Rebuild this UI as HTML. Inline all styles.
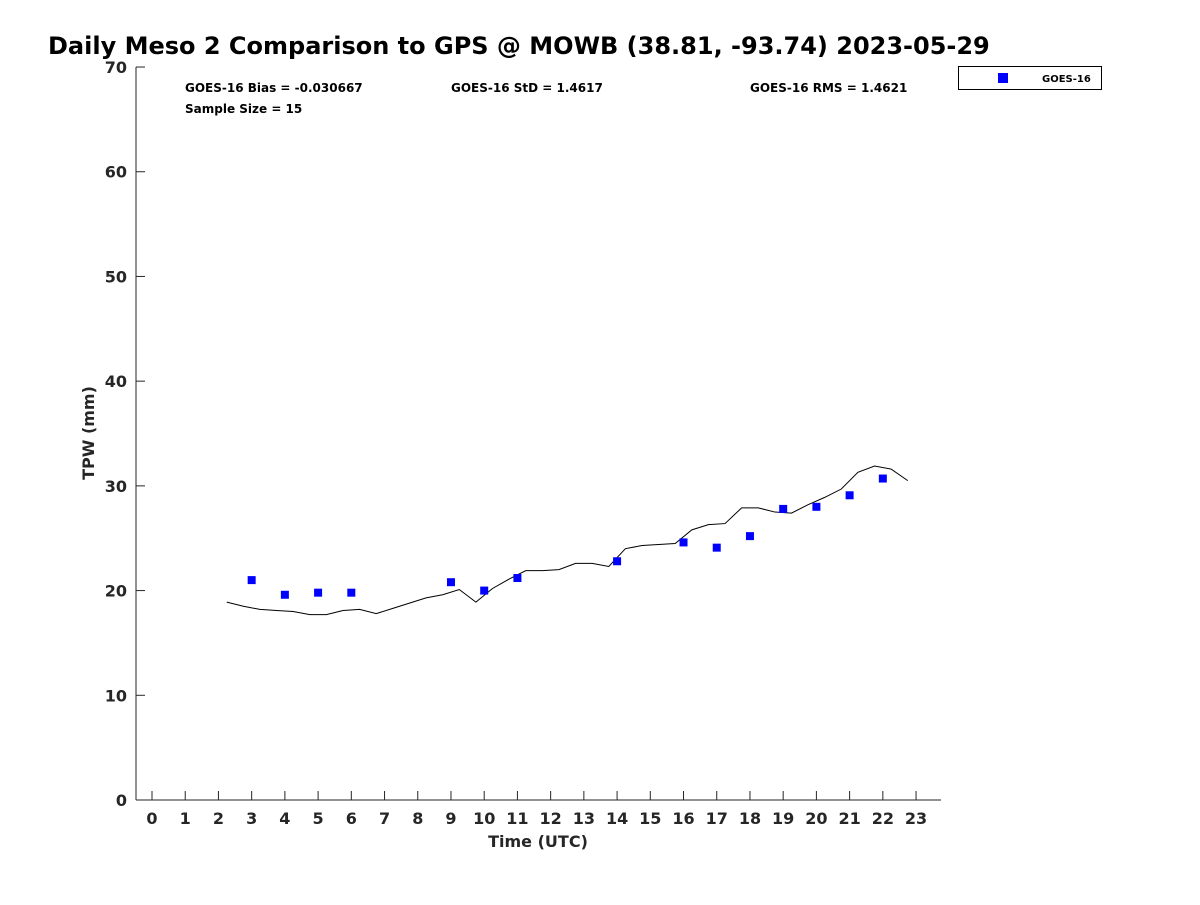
<!DOCTYPE html>
<html><head><meta charset="utf-8"><style>
body{margin:0;background:#fff;}
svg text{font-family:"DejaVu Sans","Liberation Sans",sans-serif;font-weight:bold;fill:#262626;}
</style></head><body>
<svg id="chart" width="1200" height="900" xmlns="http://www.w3.org/2000/svg">
<rect width="1200" height="900" fill="#fff"/>
<text x="48" y="54" font-size="24" style="fill:#000">Daily Meso 2 Comparison to GPS @ MOWB (38.81, -93.74) 2023-05-29</text>
<text x="185" y="92" font-size="12" style="fill:#000">GOES-16 Bias = -0.030667</text>
<text x="451" y="92" font-size="12" style="fill:#000">GOES-16 StD = 1.4617</text>
<text x="750" y="92" font-size="12" style="fill:#000">GOES-16 RMS = 1.4621</text>
<text x="185" y="113" font-size="12" style="fill:#000">Sample Size = 15</text>
<g>
<rect x="958.5" y="66.5" width="143" height="23" fill="#fff" stroke="#000"/>
<rect x="998" y="73" width="10" height="10" fill="#0000ff"/>
<text x="1042" y="82" font-size="10" style="fill:#000">GOES-16</text>
</g>
<g id="axes"></g>
<g id="marks"></g>
<text x="538" y="847" font-size="16" text-anchor="middle">Time (UTC)</text>
<text transform="translate(94,433) rotate(-90)" font-size="16" text-anchor="middle">TPW (mm)</text>
</svg>
<script>
const xTicks=[0,1,2,3,4,5,6,7,8,9,10,11,12,13,14,15,16,17,18,19,20,21,22,23];
const yTicks=[0,10,20,30,40,50,60,70];
const gpsHours=[2.25,2.75,3.25,3.75,4.25,4.75,5.25,5.75,6.25,6.75,7.25,7.75,8.25,8.75,9.25,9.75,10.25,10.75,11.25,11.75,12.25,12.75,13.25,13.75,14.25,14.75,15.25,15.75,16.25,16.75,17.25,17.75,18.25,18.75,19.25,19.75,20.25,20.75,21.25,21.75,22.25,22.75];
const gpsValues=[18.9,18.5,18.2,18.1,18.0,17.7,17.7,18.1,18.2,17.8,18.3,18.8,19.3,19.6,20.1,18.9,20.2,21.1,21.9,21.9,22.0,22.6,22.6,22.3,24.0,24.3,24.4,24.5,25.8,26.3,26.4,27.9,27.9,27.5,27.4,28.2,28.9,29.7,31.3,31.9,31.6,30.5];
const goesHours=[3,4,5,6,9,10,11,14,16,17,18,19,20,21,22];
const goesValues=[21.0,19.6,19.8,19.8,20.8,20.0,21.2,22.8,24.6,24.1,25.2,27.8,28.0,29.1,30.7];
const NS="http://www.w3.org/2000/svg";
const xs=h=>152+h*33.22;
const ys=v=>800-v*10.471;
function mk(tag,attrs,parent){const e=document.createElementNS(NS,tag);for(const k in attrs)e.setAttribute(k,attrs[k]);parent.appendChild(e);return e;}
const axes=document.getElementById('axes'),marks=document.getElementById('marks');
let a=mk('line',{x1:136,y1:800,x2:941,y2:800,stroke:'#262626','stroke-width':1},axes);


a=mk('line',{x1:136,y1:67,x2:136,y2:800,stroke:'#262626','stroke-width':1},axes);


xTicks.forEach(t=>{
 const l=mk('line',{x1:xs(t),y1:800,x2:xs(t),y2:791,stroke:'#262626'},axes);
 
 
 const tx=mk('text',{x:xs(t),y:824,'font-size':16,'text-anchor':'middle'},axes);
 tx.textContent=t;
 
 
});
yTicks.forEach(t=>{
 const l=mk('line',{x1:136,y1:ys(t),x2:145,y2:ys(t),stroke:'#262626'},axes);
 
 
 const tx=mk('text',{x:127,y:ys(t)+6,'font-size':16,'text-anchor':'end'},axes);
 tx.textContent=t;
 
 
});
const pl=mk('polyline',{points:gpsHours.map((h,i)=>xs(h)+','+ys(gpsValues[i])).join(' '),fill:'none',stroke:'#000','stroke-width':1},marks);


goesHours.forEach((h,i)=>{
 const r=mk('rect',{x:xs(h)-4,y:ys(goesValues[i])-4,width:8,height:8,fill:'#0000ff'},marks);
 
 
});
</script>
</body></html>
